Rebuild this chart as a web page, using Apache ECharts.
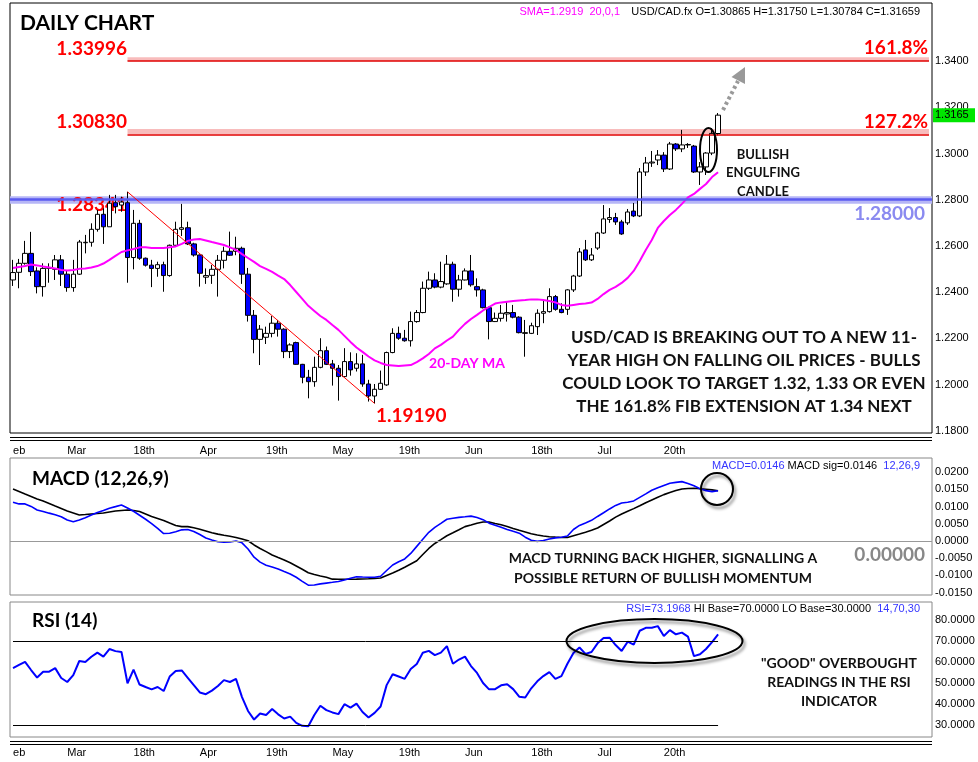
<!DOCTYPE html>
<html><head><meta charset="utf-8">
<script src="https://cdn.jsdelivr.net/npm/echarts@6/dist/echarts.min.js"></script>
<style>html,body{margin:0;padding:0;background:#fff}#c{width:978px;height:762px}</style>
</head><body><div id="c"></div>
<script>
// ---- candle data (daily USD/CAD) ----
const opens=[1.2453,1.2486,1.2525,1.2568,1.2492,1.2424,1.2503,1.2499,1.2540,1.2478,
1.2420,1.2478,1.2614,1.2616,1.2672,1.2737,1.2683,1.2787,1.2777,1.2787,
1.2550,1.2698,1.2547,1.2517,1.2503,1.2519,1.2472,1.2603,1.2672,1.2679,
1.2609,1.2561,1.2465,1.2473,1.2499,1.2538,1.2577,1.2577,1.2590,1.2478,
1.2300,1.2196,1.2205,1.2222,1.2266,1.2240,1.2143,1.2182,1.2088,1.2032,
1.2013,1.2075,1.2147,1.2090,1.2071,1.2035,1.2100,1.2071,1.2090,1.2003,
1.1951,1.1980,1.1999,1.2139,1.2222,1.2201,1.2190,1.2273,1.2312,1.2417,
1.2453,1.2422,1.2436,1.2521,1.2413,1.2453,1.2492,1.2424,1.2410,1.2333,
1.2273,1.2287,1.2306,1.2312,1.2292,1.2222,1.2222,1.2251,1.2309,1.2316,
1.2381,1.2326,1.2326,1.2410,1.2470,1.2583,1.2540,1.2591,1.2656,1.2715,
1.2723,1.2704,1.2700,1.2751,1.2730,1.2920,1.2959,1.2972,1.2993,1.2933,
1.3041,1.3020,1.3037,1.3032,1.2920,1.2942,1.3002,1.30865];
const closes=[1.2485,1.2525,1.2568,1.2489,1.2424,1.2503,1.2507,1.2540,1.2478,1.2420,
1.2478,1.2617,1.2616,1.2672,1.2737,1.2683,1.2785,1.2770,1.2790,1.2550,
1.2698,1.2547,1.2517,1.2503,1.2519,1.2472,1.2603,1.2672,1.2679,1.2609,
1.2561,1.2482,1.2472,1.2499,1.2538,1.2577,1.2560,1.2590,1.2478,1.2300,
1.2196,1.2240,1.2222,1.2266,1.2240,1.2143,1.2172,1.2088,1.2032,1.2013,
1.2075,1.2147,1.2088,1.2071,1.2035,1.2100,1.2064,1.2090,1.2003,1.1951,
1.1980,1.2006,1.2139,1.2222,1.2201,1.2190,1.2273,1.2312,1.2417,1.2453,
1.2422,1.2446,1.2521,1.2413,1.2453,1.2492,1.2432,1.2410,1.2333,1.2273,
1.2287,1.2309,1.2312,1.2292,1.2225,1.2225,1.2255,1.2309,1.2316,1.2381,
1.2326,1.2312,1.2410,1.2470,1.2574,1.2540,1.2561,1.2656,1.2717,1.2723,
1.2704,1.2652,1.2747,1.2730,1.2920,1.2959,1.2963,1.2993,1.2933,1.3041,
1.3020,1.3037,1.3039,1.2920,1.2942,1.3002,1.3087,1.31659];
const lows=[1.2427,1.2417,1.2519,1.2470,1.2395,1.2381,1.2441,1.2453,1.2427,1.2402,
1.2402,1.2475,1.2568,1.2597,1.2662,1.2609,1.2683,1.2741,1.2748,1.2441,
1.2499,1.2540,1.2511,1.2422,1.2467,1.2402,1.2467,1.2597,1.2643,1.2604,
1.2554,1.2424,1.2436,1.2436,1.2381,1.2503,1.2557,1.2560,1.2436,1.2273,
1.2136,1.2085,1.2176,1.2205,1.2208,1.2115,1.2115,1.2086,1.2006,1.1941,
1.1991,1.2071,1.2085,1.1996,1.1931,1.2032,1.2039,1.2057,1.1991,1.1927,
1.1919,1.1977,1.1995,1.2136,1.2194,1.2186,1.2165,1.2268,1.2309,1.2410,
1.2417,1.2417,1.2432,1.2359,1.2381,1.2451,1.2424,1.2381,1.2330,1.2196,
1.2271,1.2273,1.2273,1.2287,1.2222,1.2121,1.2219,1.2215,1.2266,1.2312,
1.2320,1.2309,1.2302,1.2401,1.2466,1.2535,1.2535,1.2583,1.2652,1.2700,
1.2691,1.2648,1.2691,1.2725,1.2725,1.2903,1.2942,1.2950,1.2920,1.2929,
1.3011,1.3006,1.3024,1.2916,1.2864,1.2907,1.2993,1.30784];
const highs=[1.2540,1.2544,1.2622,1.2661,1.2508,1.2525,1.2525,1.2561,1.2561,1.2496,
1.2540,1.2626,1.2648,1.2698,1.2756,1.2763,1.2821,1.2821,1.2813,1.28341,
1.2756,1.2713,1.2550,1.2540,1.2532,1.2532,1.2606,1.2705,1.2782,1.2705,
1.2614,1.2563,1.2503,1.2518,1.2561,1.2597,1.2662,1.2640,1.2597,1.2505,
1.2323,1.2258,1.2251,1.2297,1.2280,1.2244,1.2179,1.2186,1.2090,1.2064,
1.2121,1.2201,1.2165,1.2107,1.2085,1.2158,1.2140,1.2136,1.2129,1.2021,
1.2003,1.2061,1.2143,1.2244,1.2251,1.2237,1.2316,1.2323,1.2446,1.2489,
1.2482,1.2532,1.2561,1.2532,1.2475,1.2503,1.2561,1.2460,1.2415,1.2338,
1.2312,1.2345,1.2359,1.2345,1.2296,1.2280,1.2268,1.2326,1.2367,1.2417,
1.2388,1.2352,1.2413,1.2475,1.2591,1.2626,1.2591,1.2661,1.2777,1.2764,
1.2743,1.2713,1.2760,1.2786,1.2937,1.2985,1.3011,1.3015,1.3006,1.3050,
1.3045,1.3102,1.3045,1.3037,1.2963,1.3006,1.3110,1.31750];
// 20-day simple moving average (as drawn)
const sma20=[1.2505,1.2509,1.2513,1.2520,1.2516,1.2511,1.2507,1.2503,1.2496,1.2494,
1.2496,1.2501,1.2503,1.2507,1.2513,1.2524,1.2540,1.2557,1.2574,1.2581,
1.2587,1.2594,1.2594,1.2591,1.2591,1.2591,1.2594,1.2598,1.2609,1.2622,
1.2628,1.2630,1.2624,1.2617,1.2611,1.2604,1.2594,1.2583,1.2565,1.2548,
1.2531,1.2513,1.2501,1.2488,1.2472,1.2457,1.2431,1.2401,1.2371,1.2341,
1.2319,1.2297,1.2280,1.2258,1.2237,1.2211,1.2185,1.2161,1.2142,1.2122,
1.2105,1.2094,1.2085,1.2083,1.2081,1.2083,1.2085,1.2098,1.2114,1.2133,
1.2157,1.2172,1.2191,1.2208,1.2237,1.2263,1.2284,1.2302,1.2321,1.2336,
1.2351,1.2356,1.2359,1.2362,1.2364,1.2366,1.2369,1.2369,1.2366,1.2362,
1.2356,1.2345,1.2341,1.2345,1.2349,1.2351,1.2355,1.2371,1.2392,1.2410,
1.2423,1.2440,1.2462,1.2492,1.2535,1.2583,1.2626,1.2678,1.2708,1.2734,
1.2756,1.2782,1.2810,1.2825,1.2847,1.2868,1.2898,1.2919];
// MACD (12,26,9)
const macdLine=[0.01125,0.01076,0.01076,0.01003,0.00901,0.00858,0.00808,0.00762,0.00703,0.00610,
0.00561,0.00610,0.00674,0.00756,0.00828,0.00887,0.00951,0.00997,0.01047,0.00959,
0.00863,0.00747,0.00631,0.00506,0.00363,0.00215,0.00224,0.00267,0.00323,0.00334,
0.00276,0.00186,0.00087,0.00029,-0.00023,-0.00035,-0.00029,0.00000,-0.00055,-0.00233,
-0.00471,-0.00616,-0.00706,-0.00756,-0.00814,-0.00887,-0.00959,-0.01055,-0.01172,-0.01285,
-0.01279,-0.01247,-0.01224,-0.01201,-0.01177,-0.01134,-0.01084,-0.01038,-0.01047,-0.01055,
-0.01055,-0.01026,-0.00858,-0.00698,-0.00602,-0.00523,-0.00363,-0.00157,0.00047,0.00250,
0.00395,0.00512,0.00631,0.00660,0.00686,0.00703,0.00721,0.00683,0.00619,0.00517,
0.00456,0.00395,0.00334,0.00279,0.00227,0.00110,0.00020,-0.00012,0.00012,0.00055,
0.00090,0.00108,0.00145,0.00334,0.00451,0.00523,0.00599,0.00712,0.00820,0.00930,
0.01032,0.01105,0.01125,0.01163,0.01267,0.01369,0.01474,0.01547,0.01613,0.01677,
0.01701,0.01724,0.01672,0.01605,0.01517,0.01462,0.01433,0.01460];
const macdSignal=[0.01512,0.01439,0.01366,0.01294,0.01221,0.01163,0.01090,0.01017,0.00945,0.00872,
0.00814,0.00756,0.00770,0.00785,0.00799,0.00814,0.00843,0.00872,0.00887,0.00901,
0.00887,0.00858,0.00785,0.00712,0.00654,0.00596,0.00523,0.00451,0.00416,0.00416,
0.00384,0.00340,0.00291,0.00238,0.00198,0.00166,0.00137,0.00102,0.00058,0.00006,
-0.00116,-0.00218,-0.00311,-0.00407,-0.00480,-0.00552,-0.00631,-0.00727,-0.00823,-0.00922,
-0.00974,-0.01017,-0.01055,-0.01110,-0.01113,-0.01113,-0.01113,-0.01110,-0.01105,-0.01099,
-0.01090,-0.01076,-0.01003,-0.00930,-0.00852,-0.00765,-0.00669,-0.00573,-0.00392,-0.00218,
-0.00073,0.00038,0.00151,0.00238,0.00326,0.00416,0.00465,0.00515,0.00552,0.00552,
0.00509,0.00471,0.00422,0.00363,0.00311,0.00262,0.00212,0.00174,0.00142,0.00122,
0.00110,0.00102,0.00099,0.00151,0.00203,0.00256,0.00311,0.00378,0.00480,0.00581,
0.00692,0.00785,0.00863,0.00939,0.01023,0.01110,0.01192,0.01270,0.01346,0.01410,
0.01468,0.01509,0.01523,0.01532,0.01517,0.01503,0.01483,0.01460];
// RSI (14)
const rsi14=[57.1,58.6,60.1,56.2,52.6,55.4,55.4,57.1,52.4,50.5,
53.8,60.5,60.0,62.5,64.5,62.6,66.2,65.2,64.8,49.9,
56.4,49.3,48.1,47.0,48.1,46.2,53.1,55.7,56.0,52.5,
49.0,45.5,44.7,46.4,48.6,51.4,50.5,52.0,43.3,36.7,
32.6,35.5,34.8,37.6,35.1,33.1,34.0,31.0,29.6,29.4,
34.8,39.2,37.1,36.0,35.2,39.9,38.3,40.2,36.2,33.6,
35.8,38.8,49.0,54.2,53.1,52.0,56.7,59.1,64.4,65.3,
63.3,64.5,67.6,59.2,61.2,62.6,58.1,54.8,50.0,47.0,
47.1,48.9,49.4,47.1,43.5,43.1,47.5,50.8,53.3,55.2,
52.0,53.3,59.2,64.3,66.9,63.9,64.8,68.9,71.4,71.6,
68.1,65.3,69.7,68.3,74.9,76.3,76.3,77.1,72.4,75.2,
73.2,74.0,72.1,62.8,63.7,66.2,69.5,73.1968];

// ---- axis ticks / levels ----
const NSLOTS=153;
const categories=Array.from({length:NSLOTS},(_,i)=>String(i));
const dateTickIdx=[0,9,20,31,42,53,64,75,86,97,108];
const dateTickText=['eb','Mar','18th','Apr','19th','May','19th','Jun','18th','Jul','20th'];
const fib1618=1.33996, fib1272=1.30830, swingHigh=1.28341, swingLow=1.19190, support=1.28000;
const swingHighIdx=19, swingLowIdx=60;
const smaNow=1.2919, macdNow=0.0146, sigNow=0.0146, rsiNow=73.1968;

const last=opens.length-1;
const candles=opens.map((o,i)=>[o,closes[i],lows[i],highs[i]]);
const tickMap={}; dateTickIdx.forEach((k,j)=>tickMap[k]=dateTickText[j]);

const FONT='Liberation Sans', BOLD='Lato';
const xLabel=(margin)=>({show:true,interval:(i)=>tickMap[i]!==undefined,formatter:(v)=>tickMap[+v]||'',align:'left',margin:margin,fontSize:11,color:'#000',fontFamily:FONT});
const yLab=(fmt)=>({formatter:fmt,showMinLabel:false,showMaxLabel:false,margin:3,fontSize:11,color:'#000',fontFamily:FONT});
const baseY={type:'value',position:'right',scale:true,axisLine:{show:false},axisTick:{show:false},splitLine:{show:false}};
const baseX={type:'category',data:categories,boundaryGap:true,axisLine:{show:false},axisTick:{show:false},splitLine:{show:false}};

const chart=echarts.init(document.getElementById('c'));
const txt=(text,x,y,o)=>Object.assign({type:'text',x:x,y:y,z:100,style:Object.assign({text:text,fill:'#000',fontFamily:BOLD,fontWeight:'bold',fontSize:19,verticalAlign:'middle',align:'left'},o||{})});
const trunc4=v=>(Math.floor(v*1e4)/1e4).toFixed(4);

const graphics=[
    // separators
    {type:'line',z:100,shape:{x1:10,y1:437.5,x2:932,y2:437.5},style:{stroke:'#000',lineWidth:1}},
    {type:'line',z:100,shape:{x1:10,y1:440.5,x2:932,y2:440.5},style:{stroke:'#000',lineWidth:1}},
    {type:'line',z:100,shape:{x1:10,y1:741.5,x2:932,y2:741.5},style:{stroke:'#000',lineWidth:1}},
    {type:'line',z:100,shape:{x1:10,y1:744.5,x2:932,y2:744.5},style:{stroke:'#000',lineWidth:1}},
    {type:'rect',z:90,shape:{x:933,y:434,width:45,height:23},style:{fill:'#fff'}},
    {type:'rect',z:90,shape:{x:933,y:597,width:45,height:4},style:{fill:'#fff'}},
    // headers
    txt('DAILY CHART',20,23,{fontSize:21}),
    {type:'text',x:620,y:12,z:100,style:{text:'SMA='+smaNow.toFixed(4)+'  20,0,1',fill:'#ff00ff',fontFamily:FONT,fontSize:11,align:'right',verticalAlign:'middle'}},
    {type:'text',x:920,y:12,z:100,style:{text:'USD/CAD.fx O='+opens[last].toFixed(5)+' H='+highs[last].toFixed(5)+' L='+lows[last].toFixed(5)+' C='+closes[last].toFixed(5),fill:'#000',fontFamily:FONT,fontSize:11,align:'right',verticalAlign:'middle'}},
    // level labels
    txt(fib1618.toFixed(5),127,49,{fill:'#ff0000',align:'right'}),
    txt(fib1272.toFixed(5),127,122,{fill:'#ff0000',align:'right'}),
    Object.assign(txt(swingHigh.toFixed(5),127,205,{fill:'#ff0000',align:'right'}),{z:2}),
    txt(swingLow.toFixed(5),376,416,{fill:'#ff0000'}),
    txt('161.8%',928,48,{fill:'#ff0000',align:'right'}),
    txt('127.2%',928,122,{fill:'#ff0000',align:'right'}),
    txt(support.toFixed(5),925,214,{fill:'#8a8af0',align:'right'}),
    // annotations main
    txt('BULLISH\nENGULFING\nCANDLE',763,173,{fontSize:13,align:'center',lineHeight:18.5,fill:'#111'}),
    txt('20-DAY MA',467,363,{fontSize:14,align:'center',fill:'#ff00ff'}),
    txt('USD/CAD IS BREAKING OUT TO A NEW 11-\nYEAR HIGH ON FALLING OIL PRICES - BULLS\nCOULD LOOK TO TARGET 1.32, 1.33 OR EVEN\nTHE 161.8% FIB EXTENSION AT 1.34 NEXT',744,372.5,{fontSize:17,align:'center',lineHeight:23,fill:'#111'}),
    {type:'ellipse',z:100,shape:{cx:708.5,cy:150,rx:8.5,ry:22},style:{fill:'none',stroke:'#000',lineWidth:2}},
    {type:'line',z:100,shape:{x1:723,y1:110,x2:738,y2:81},style:{stroke:'#999',lineWidth:4,lineDash:[3,3]}},
    {type:'polygon',z:100,shape:{points:[[745,67],[731.5,77],[745,84]]},style:{fill:'#999'}},
    // MACD panel
    txt('MACD (12,26,9)',32,479,{fontSize:19}),
    {type:'text',x:920,y:466,z:100,style:{text:'{b|MACD='+macdNow.toFixed(4)+'} {k|MACD sig='+sigNow.toFixed(4)+'}  {b|12,26,9}',align:'right',verticalAlign:'middle',fontFamily:FONT,fontSize:11,rich:{b:{fill:'#3535ff',fontFamily:FONT,fontSize:11},k:{fill:'#000',fontFamily:FONT,fontSize:11}}}},
    {type:'circle',z:100,shape:{cx:717,cy:489,r:16},style:{fill:'none',stroke:'#000',lineWidth:2,shadowBlur:3,shadowColor:'rgba(0,0,0,0.45)',shadowOffsetX:2,shadowOffsetY:3}},
    txt('MACD TURNING BACK HIGHER, SIGNALLING A\nPOSSIBLE RETURN OF BULLISH MOMENTUM',663,568.5,{fontSize:14,align:'center',lineHeight:20,fill:'#111'}),
    txt((0).toFixed(5),925,555,{fill:'#888',align:'right'}),
    // RSI panel
    txt('RSI (14)',32,621,{fontSize:19}),
    {type:'text',x:920,y:609,z:100,style:{text:'{b|RSI='+rsiNow.toFixed(4)+'} {k|HI Base=70.0000 LO Base=30.0000}  {b|14,70,30}',align:'right',verticalAlign:'middle',fontFamily:FONT,fontSize:11,rich:{b:{fill:'#3535ff',fontFamily:FONT,fontSize:11},k:{fill:'#000',fontFamily:FONT,fontSize:11}}}},
    {type:'ellipse',z:100,shape:{cx:654.5,cy:641,rx:88,ry:22},style:{fill:'none',stroke:'#000',lineWidth:2,shadowBlur:3,shadowColor:'rgba(0,0,0,0.45)',shadowOffsetX:2,shadowOffsetY:3}},
    txt('"GOOD" OVERBOUGHT\nREADINGS IN THE RSI\nINDICATOR',839,682,{fontSize:14,align:'center',lineHeight:19,fill:'#111'})
];

chart.setOption({
  animation:false,
  backgroundColor:'#fff',
  grid:[
    {left:10,right:46,top:3,height:430,show:true,borderColor:'#000',borderWidth:1},
    {left:10,right:46,top:458,height:137,show:true,borderColor:'#888',borderWidth:1},
    {left:10,right:46,top:602,height:135,show:true,borderColor:'#888',borderWidth:1}
  ],
  xAxis:[
    Object.assign({},baseX,{gridIndex:0,axisLabel:xLabel(12)}),
    Object.assign({},baseX,{gridIndex:1,axisLabel:{show:false}}),
    Object.assign({},baseX,{gridIndex:2,axisLabel:xLabel(10)})
  ],
  yAxis:[
    Object.assign({},baseY,{gridIndex:0,min:1.1791,max:1.3651,splitNumber:9,axisLabel:yLab(v=>v>1.35?'':v.toFixed(4))}),
    Object.assign({},baseY,{gridIndex:1,min:-0.0157,max:0.0241,splitNumber:8,axisLabel:yLab(v=>v.toFixed(4))}),
    Object.assign({},baseY,{gridIndex:2,min:24.3,max:88.6,splitNumber:6,axisLabel:yLab(v=>v.toFixed(4))})
  ],
  series:[
    {type:'candlestick',xAxisIndex:0,yAxisIndex:0,data:candles,barWidth:5,z:3,
     itemStyle:{color:'#ffffff',color0:'#0000ff',borderColor:'#000',borderColor0:'#000',borderColorDoji:'#000',borderWidth:1},
     markArea:{silent:true,z:1,data:[
       [{xAxis:swingHighIdx,yAxis:fib1618},{xAxis:NSLOTS-1,yAxis:fib1618+0.0017}],
       [{xAxis:swingHighIdx,yAxis:fib1272},{xAxis:NSLOTS-1,yAxis:fib1272+0.0023}],
       [{yAxis:support-0.0017,itemStyle:{color:'#b6b6f6'}},{yAxis:support+0.0015}]
     ],itemStyle:{color:'#f8bcbc'}},
     markLine:{silent:true,symbol:['none','none'],label:{show:false},data:[
       [{xAxis:swingHighIdx,yAxis:fib1618,lineStyle:{color:'#e00000',width:1.5,type:'solid'}},{xAxis:NSLOTS-1,yAxis:fib1618}],
       [{xAxis:swingHighIdx,yAxis:fib1272,lineStyle:{color:'#e00000',width:1.5,type:'solid'}},{xAxis:NSLOTS-1,yAxis:fib1272}],
       {yAxis:support,lineStyle:{color:'#5a5af0',width:2.5,type:'solid'}},
       [{xAxis:swingHighIdx,yAxis:swingHigh,lineStyle:{color:'#ff0000',width:1,type:'solid'}},{xAxis:swingLowIdx,yAxis:swingLow}]
     ]}},
    {type:'line',xAxisIndex:0,yAxisIndex:0,data:sma20,showSymbol:false,z:4,lineStyle:{color:'#ff00ff',width:2},itemStyle:{color:'#ff00ff'}},
    {type:'line',xAxisIndex:1,yAxisIndex:1,data:macdLine,showSymbol:false,z:4,lineStyle:{color:'#0000ff',width:1.6},itemStyle:{color:'#0000ff'},
     markLine:{silent:true,symbol:['none','none'],label:{show:false},data:[{yAxis:0,lineStyle:{color:'#999',width:1,type:'solid'}}]}},
    {type:'line',xAxisIndex:1,yAxisIndex:1,data:macdSignal,showSymbol:false,z:3,lineStyle:{color:'#000',width:1.6},itemStyle:{color:'#000'}},
    {type:'line',xAxisIndex:2,yAxisIndex:2,data:rsi14,showSymbol:false,z:4,lineStyle:{color:'#0000ff',width:2},itemStyle:{color:'#0000ff'},
     markLine:{silent:true,symbol:['none','none'],label:{show:false},data:[
       [{xAxis:0,yAxis:70,lineStyle:{color:'#000',width:1,type:'solid'}},{xAxis:last,yAxis:70}],
       [{xAxis:0,yAxis:30,lineStyle:{color:'#000',width:1,type:'solid'}},{xAxis:last,yAxis:30}]
     ]}}
  ],
  graphic:graphics
});

// current-price tag on the price scale, positioned through the axis
const tagY=chart.convertToPixel({yAxisIndex:0},closes[last]);
chart.setOption({graphic:graphics.concat([
  {type:'rect',z:110,shape:{x:933,y:tagY-7,width:42,height:14},style:{fill:'#00e600'}},
  {type:'text',z:111,x:935,y:tagY,style:{text:trunc4(closes[last]),fill:'#000',fontFamily:FONT,fontSize:11,verticalAlign:'middle',align:'left'}}
])});
</script></body></html>
